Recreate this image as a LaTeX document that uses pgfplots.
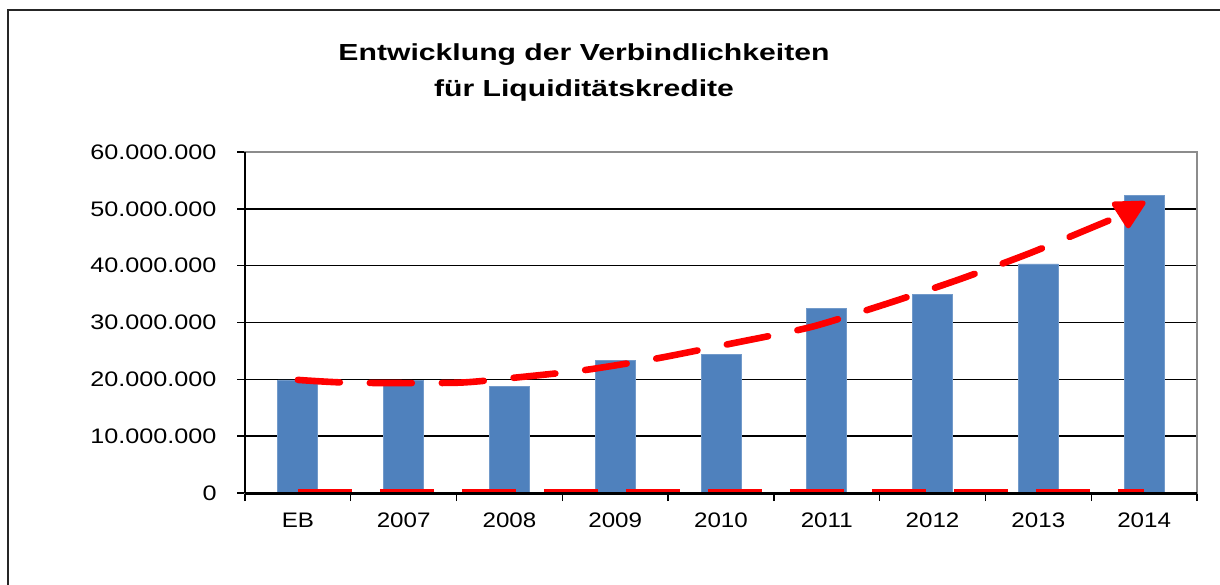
\documentclass[border=0pt]{standalone}
\usepackage{pgfplots}
\pgfplotsset{compat=1.18}
\usepackage{fontspec}
\setmainfont{Liberation Sans}
\definecolor{barblue}{HTML}{4F81BD}
\definecolor{framegray}{HTML}{8C8C8C}
\begin{document}
\begin{tikzpicture}[x=0.5pt,y=0.5pt]
\path[use as bounding box] (0,0) rectangle (1220,584);
\draw[line width=1pt, black!85] (8,-2) -- (8,574) -- (1222,574);
\node[font=\bfseries\fontsize{11.6}{14}\selectfont, xscale=1.3, anchor=base] at (584,523) {Entwicklung der Verbindlichkeiten};
\node[font=\bfseries\fontsize{11.6}{14}\selectfont, xscale=1.3, anchor=base] at (584,487) {für Liquiditätskredite};
\begin{axis}[
  at={(122.5pt,45.5pt)}, anchor=south west,
  scale only axis, width=476pt, height=170.5pt,
  xmin=-0.5, xmax=8.5, ymin=0, ymax=60000000,
  scaled y ticks=false,
  xtick={0,1,2,3,4,5,6,7,8},
  xticklabels={EB,2007,2008,2009,2010,2011,2012,2013,2014},
  minor xtick={-0.5,0.5,...,8.5},
  major x tick style={draw=none},
  minor x tick style={draw=black, line width=0.7pt},
  minor tick length=4pt,
  ytick={0,10000000,20000000,30000000,40000000,50000000,60000000},
  yticklabels={0,10.000.000,20.000.000,30.000.000,40.000.000,50.000.000,60.000.000},
  y tick style={draw=black, line width=0.8pt},
  major tick length=4pt,
  tick align=outside,
  xtick pos=bottom, ytick pos=left,
  ymajorgrids, grid style={black, line width=0.8pt},
  axis line style={framegray, line width=1pt},
  yticklabel style={font=\fontsize{10.5}{12}\selectfont, xscale=1.2, xshift=-5pt},
  xticklabel style={font=\fontsize{10.5}{12}\selectfont, xscale=1.15, yshift=-2.5pt},
  /pgf/number format/assume math mode=true,
  clip=false,
]
\addplot[ybar, bar width=20pt, fill=barblue, draw=barblue!80!white] coordinates {
 (0,19900000) (1,19800000) (2,18800000) (3,23300000) (4,24400000)
 (5,32500000) (6,35000000) (7,40300000) (8,52300000)};
\draw[black, line width=0.8pt] (rel axis cs:0,0) -- (rel axis cs:0,1);
\draw[black, line width=1.5pt] (rel axis cs:0,0) -- (rel axis cs:1,0);
\addplot[red, line width=1.5pt, dash pattern=on 27pt off 14pt, yshift=1.3pt] coordinates {
 (0,0) (8,0)};
\addplot[red, line width=3.3pt, line cap=round, dash pattern=on 21pt off 15pt, smooth, tension=0.4] coordinates {
 (0,19900000) (0.5,19400000) (1.5,19400000) (2,20200000) (2.7,21600000)
 (3.4,23700000) (4.1,26300000) (4.85,29200000) (5.55,33200000)
 (6.24,37500000) (6.92,42200000) (7.57,47200000) (7.75,48600000)};
\addplot[red, fill=red, line width=2.5pt, line join=round, line cap=round] coordinates {
 (7.99,51000000) (7.717,50850000) (7.85,47000000) (7.99,51000000)};
\end{axis}
\end{tikzpicture}
\end{document}
